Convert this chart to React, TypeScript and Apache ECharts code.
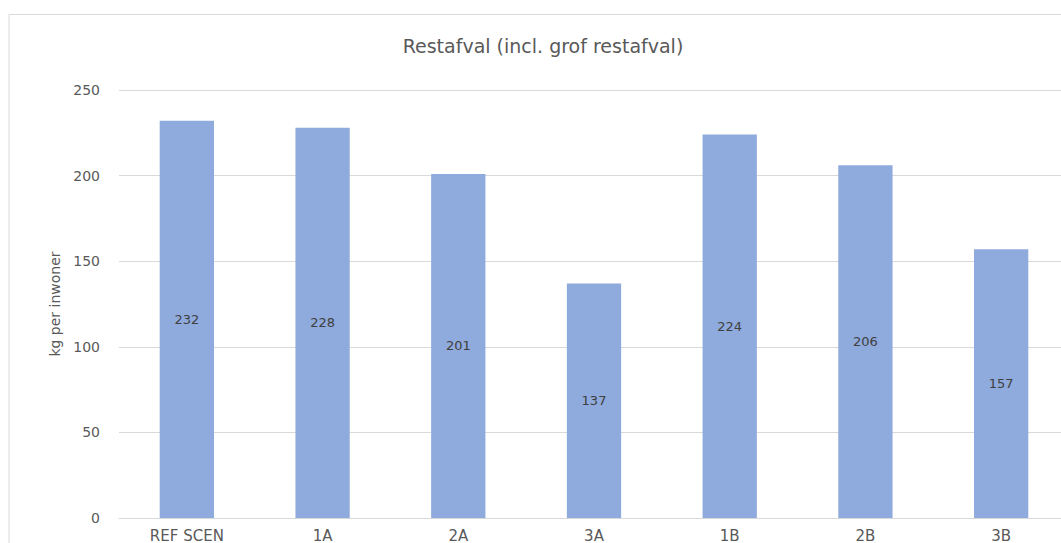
import React, { useEffect, useRef } from "react";
import * as echarts from "echarts";

const categories = ["REF SCEN", "1A", "2A", "3A", "1B", "2B", "3B"];
const restafval = [232, 228, 201, 137, 224, 206, 157];
const yTicks = { min: 0, max: 250, interval: 50 };

const FONT = "'DejaVu Sans', 'Open Sans', sans-serif";

export default function App() {
  const ref = useRef<HTMLDivElement>(null);

  useEffect(() => {
    document.documentElement.style.overflow = "hidden";
    const chart = echarts.init(ref.current!, undefined, { renderer: "svg" });
    chart.setOption({
      animation: false,
      backgroundColor: "#ffffff",
      textStyle: { fontFamily: FONT },
      title: {
        text: "Restafval (incl. grof restafval)",
        left: 530,
        top: 23,
        textAlign: "center",
        textStyle: { fontFamily: FONT, fontSize: 19, fontWeight: "normal", color: "#595959" },
      },
      graphic: [
        {
          type: "rect",
          shape: { x: 1, y: 6.5, width: 1200, height: 700 },
          style: { fill: "none", stroke: "#D9D9D9", lineWidth: 1 },
          silent: true,
          z: -1,
        },
      ],
      grid: { left: 111, right: 14, top: 82, bottom: 25, containLabel: false },
      xAxis: {
        type: "category",
        data: categories,
        axisLine: { show: true, lineStyle: { color: "#D9D9D9", width: 1 } },
        axisTick: { show: false },
        axisLabel: { color: "#595959", fontSize: 15, margin: 10, fontFamily: FONT },
      },
      yAxis: {
        type: "value",
        min: yTicks.min,
        max: yTicks.max,
        interval: yTicks.interval,
        name: "kg per inwoner",
        nameLocation: "middle",
        nameRotate: 90,
        nameGap: 55,
        nameTextStyle: { color: "#595959", fontSize: 14, fontFamily: FONT },
        axisLine: { show: false },
        axisTick: { show: false },
        axisLabel: { color: "#595959", fontSize: 14, margin: 19, fontFamily: FONT },
        splitLine: { lineStyle: { color: "#D9D9D9", width: 1 } },
      },
      series: [
        {
          type: "bar",
          data: restafval,
          barWidth: "40%",
          itemStyle: { color: "#8FAADC" },
          label: {
            show: true,
            position: "inside",
            color: "#404040",
            fontSize: 13,
            fontFamily: FONT,
          },
        },
      ],
    });
    return () => chart.dispose();
  }, []);

  return (
    <div
      ref={ref}
      style={{ position: "fixed", left: 8, top: 8, width: 1075, height: 535 }}
    />
  );
}
